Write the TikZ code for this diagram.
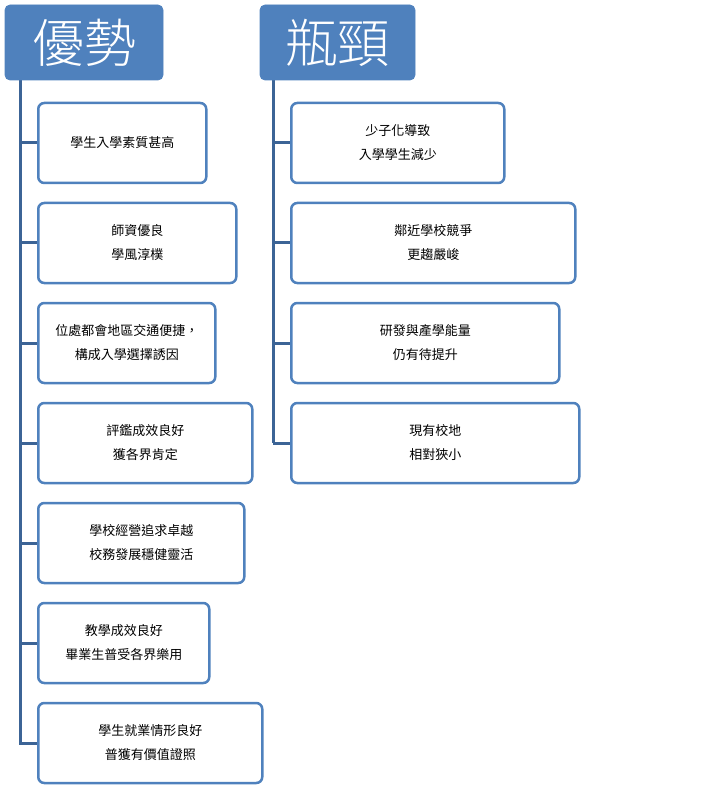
\documentclass[tikz,border=0pt]{standalone}
\usepackage{fontspec}
\setmainfont{Noto Sans CJK TC}
\newfontfamily\hdfont{Noto Sans CJK TC Light}
\definecolor{hdblue}{RGB}{79,129,189}
\definecolor{lnblue}{RGB}{60,100,150}
\tikzset{every picture/.style={line width=0.75pt}}
\tikzset{
  head/.style={fill=hdblue,draw=hdblue,rounded corners=5pt,text=white,font=\hdfont\fontsize{52}{52}\selectfont,inner sep=0pt},
  item/.style={draw=hdblue,line width=2.5pt,fill=white,rounded corners=6pt,align=center,font=\fontsize{13}{24}\selectfont,inner sep=0pt},
  trunk/.style={draw=lnblue,line width=3pt}
}
\begin{document}
\begin{tikzpicture}[x=1pt,y=1pt,yscale=-1]
	\useasboundingbox (0,0) rectangle (727,799);
	% trunks
	\draw [trunk] (20,78) -- (20,745);
	\draw [trunk] (273,78) -- (273,443);
	% headers
	\node [head,minimum width=158pt,minimum height=75pt] (adv) at (84,42.5) {優勢};
	\node [head,minimum width=155pt,minimum height=75pt] (neck) at (337.5,42.5) {瓶頸};
	% left items
	\foreach \n/\w/\t [count=\i] in {
	  a1/168/{學生入學素質甚高},
	  a2/198/{師資優良\\學風淳樸},
	  a3/177/{位處都會地區交通便捷，\\構成入學選擇誘因},
	  a4/214/{評鑑成效良好\\獲各界肯定},
	  a5/206/{學校經營追求卓越\\校務發展穩健靈活},
	  a6/171/{教學成效良好\\畢業生普受各界樂用},
	  a7/224/{學生就業情形良好\\普獲有價值證照}}{
	  \coordinate (c\n) at (20,43+100*\i);
	  \node [item,minimum width=\w pt,minimum height=80pt,anchor=west] (\n) at (37,43+100*\i) {\t};
	  \draw [trunk] (c\n) -- (\n.west);
	}
	% right items
	\foreach \n/\w/\t [count=\i] in {
	  b1/213/{少子化導致\\入學學生減少},
	  b2/284/{鄰近學校競爭\\更趨嚴峻},
	  b3/268/{研發與產學能量\\仍有待提升},
	  b4/288/{現有校地\\相對狹小}}{
	  \coordinate (c\n) at (273,43+100*\i);
	  \node [item,minimum width=\w pt,minimum height=80pt,anchor=west] (\n) at (290,43+100*\i) {\t};
	  \draw [trunk] (c\n) -- (\n.west);
	}
\end{tikzpicture}
\end{document}
